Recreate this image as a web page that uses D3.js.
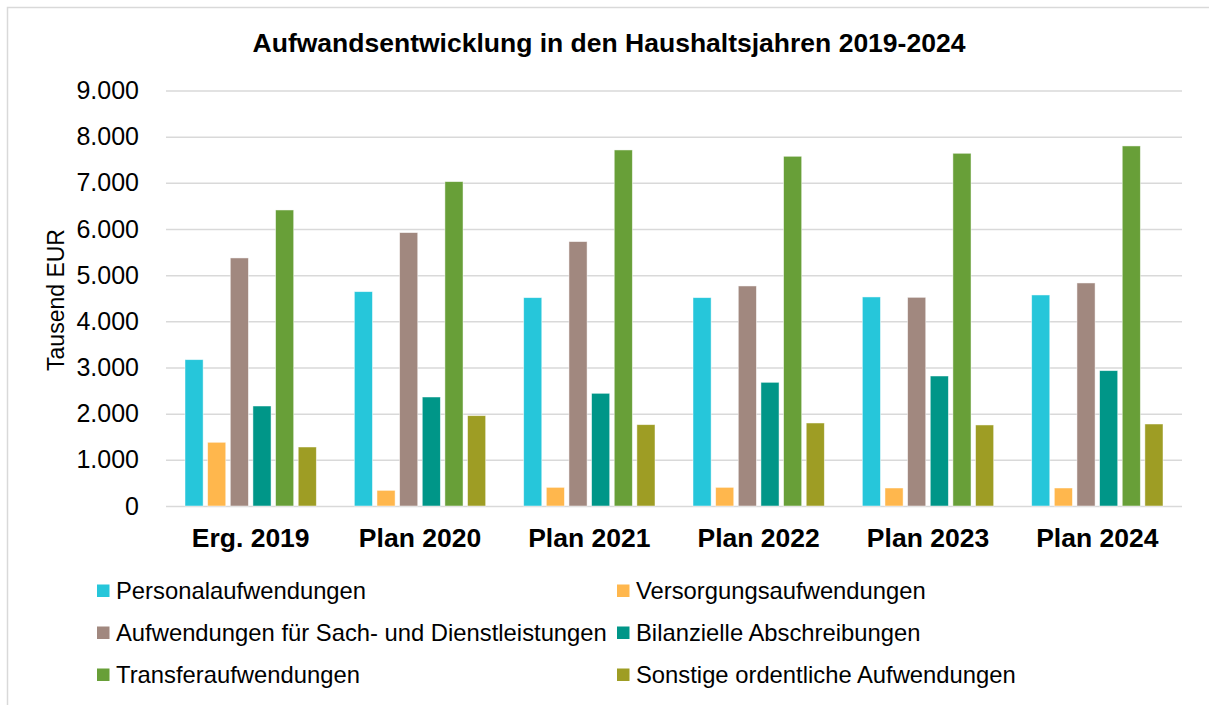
<!DOCTYPE html>
<html>
<head>
<meta charset="utf-8">
<script src="https://cdn.jsdelivr.net/npm/d3@7"></script>
<style>
  body { margin: 0; background: #fff; }
  svg text { font-family: "Liberation Sans", Arial, sans-serif; fill: #000; }
</style>
</head>
<body>
<div id="chart"></div>
<script>
// categories (Haushaltsjahre)
var categories = ["Erg. 2019", "Plan 2020", "Plan 2021", "Plan 2022", "Plan 2023", "Plan 2024"];
// series names
var seriesNames = [
  "Personalaufwendungen",
  "Versorgungsaufwendungen",
  "Aufwendungen für Sach- und Dienstleistungen",
  "Bilanzielle Abschreibungen",
  "Transferaufwendungen",
  "Sonstige ordentliche Aufwendungen"
];
// values in Tausend EUR
var personal   = [3170, 4643, 4513, 4513, 4528, 4571];
var versorgung = [1380,  339,  404,  404,  390,  390];
var sach       = [5373, 5922, 5727, 4766, 4520, 4831];
var bilanz     = [2166, 2361, 2441, 2679, 2816, 2932];
var transfer   = [6412, 7026, 7712, 7575, 7640, 7799];
var sonstige   = [1278, 1957, 1762, 1798, 1755, 1776];
var yTicks = [0, 1000, 2000, 3000, 4000, 5000, 6000, 7000, 8000, 9000];

var colors = ["#26c6da", "#ffb74d", "#a1887f", "#009688", "#689f38", "#9e9d24"];
var seriesValues = [personal, versorgung, sach, bilanz, transfer, sonstige];

var width = 1209, height = 705;
var margin = {top: 90.5, left: 166, right: 27, bottom: 199};
var plotW = width - margin.left - margin.right,
    plotH = height - margin.top - margin.bottom;

var svg = d3.select("#chart").append("svg")
    .attr("width", width)
    .attr("height", height);

// outer frame
svg.append("rect")
    .attr("x", 7.5).attr("y", 7.5)
    .attr("width", width + 10).attr("height", height + 10)
    .attr("fill", "none")
    .attr("stroke", "#d9d9d9")
    .attr("stroke-width", 1.5);

var de = d3.formatLocale({decimal: ",", thousands: ".", grouping: [3], currency: ["", " €"]});
var fmt = de.format(",d");

var g = svg.append("g")
    .attr("transform", "translate(" + margin.left + "," + margin.top + ")");

var x0 = d3.scaleBand().domain(categories).range([0, plotW]).padding(0);
var x1 = d3.scaleBand().domain(d3.range(seriesNames.length))
    .range([19, x0.bandwidth() - 19])
    .paddingInner(0.2).paddingOuter(0);
var y = d3.scaleLinear().domain([0, 9000]).range([plotH, 0]);

// gridlines + tick labels
var yAxis = g.append("g")
    .call(d3.axisLeft(y).tickValues(yTicks).tickFormat(fmt).tickSize(-plotW).tickPadding(27));
yAxis.select(".domain").remove();
yAxis.selectAll(".tick line").attr("stroke", "#d9d9d9").attr("stroke-width", 1.5);
yAxis.selectAll(".tick text")
    .style("font-size", "25px")
    .attr("fill", "#000");

// bars
var data = [];
categories.forEach(function(c, i) {
  seriesValues.forEach(function(s, j) {
    data.push({cat: c, series: j, value: s[i]});
  });
});

g.selectAll("rect.bar")
    .data(data).enter()
  .append("rect")
    .attr("class", "bar")
    .attr("x", function(d) { return x0(d.cat) + x1(d.series); })
    .attr("y", function(d) { return y(d.value); })
    .attr("width", x1.bandwidth())
    .attr("height", function(d) { return plotH - y(d.value); })
    .attr("fill", function(d) { return colors[d.series]; })
    .attr("stroke", "#fff")
    .attr("stroke-opacity", 0.6)
    .attr("stroke-width", 0.8);

// category labels
var xAxis = g.append("g")
    .attr("transform", "translate(0," + plotH + ")")
    .call(d3.axisBottom(x0).tickSize(0).tickPadding(0));
xAxis.select(".domain").remove();
xAxis.selectAll(".tick text")
    .attr("dy", null)
    .attr("y", 41)
    .style("font-size", "26.5px")
    .style("font-weight", "bold")
    .attr("fill", "#000");

// axis title
svg.append("text")
    .attr("transform", "translate(64,300) rotate(-90)")
    .attr("text-anchor", "middle")
    .style("font-size", "23px")
    .text("Tausend EUR");

// title
svg.append("text")
    .attr("x", 609).attr("y", 52)
    .attr("text-anchor", "middle")
    .style("font-size", "26.5px")
    .style("font-weight", "bold")
    .text("Aufwandsentwicklung in den Haushaltsjahren 2019-2024");

// legend
var legendX = [97, 617], legendY = [591, 633, 675];
var legend = svg.selectAll("g.legend")
    .data(seriesNames).enter()
  .append("g")
    .attr("class", "legend")
    .attr("transform", function(d, i) {
      return "translate(" + legendX[i % 2] + "," + legendY[Math.floor(i / 2)] + ")";
    });
legend.append("rect")
    .attr("x", 0).attr("y", -6.5)
    .attr("width", 12.5).attr("height", 12.5)
    .attr("fill", function(d, i) { return colors[i]; });
legend.append("text")
    .attr("x", 19).attr("y", 0)
    .attr("dy", "0.35em")
    .style("font-size", "23.8px")
    .text(function(d) { return d; });
</script>
</body>
</html>
